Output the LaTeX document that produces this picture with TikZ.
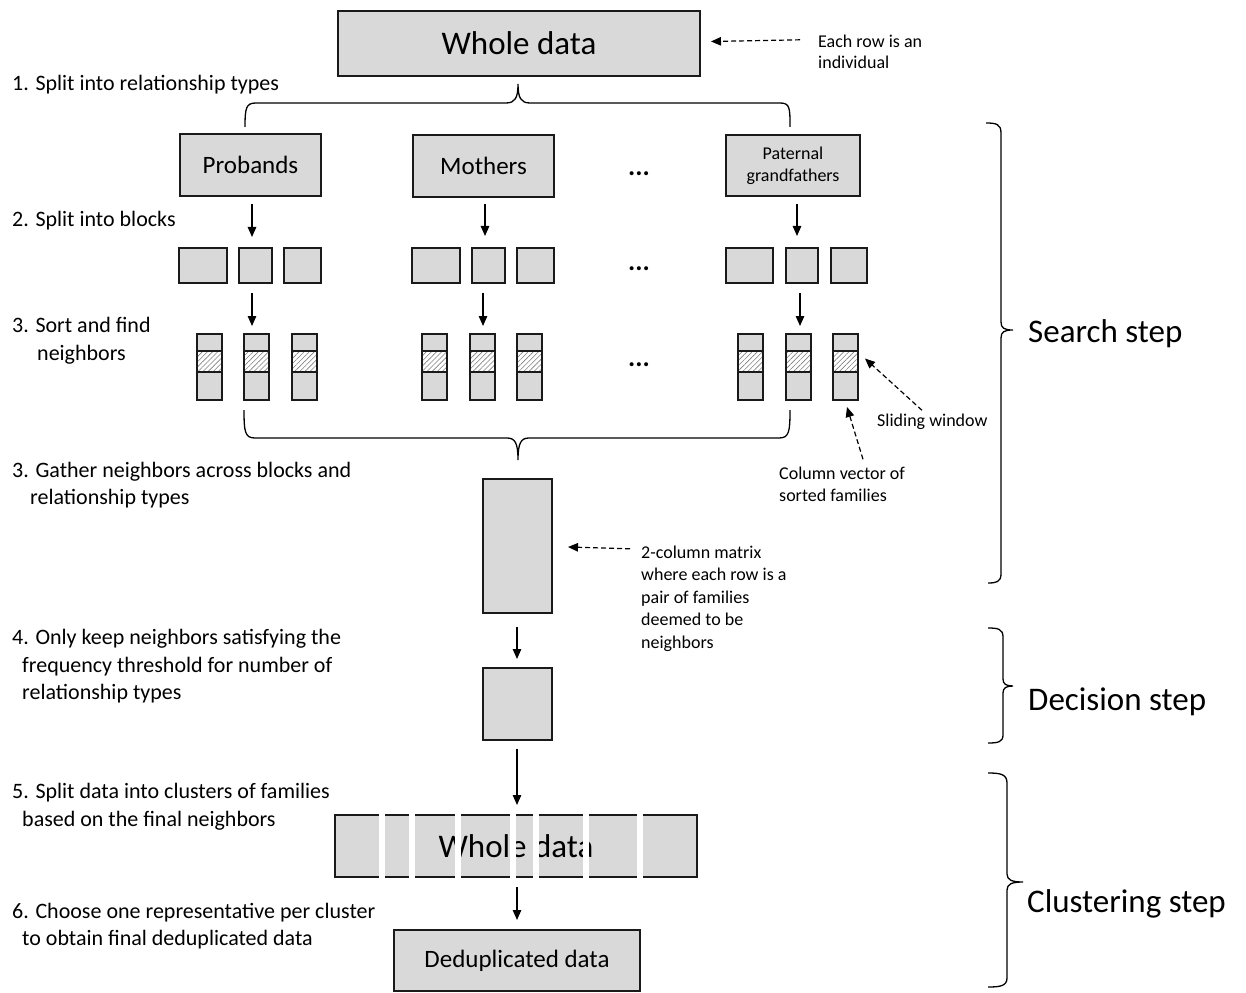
\documentclass[tikz,border=0pt]{standalone}
\usepackage{fontspec}
\setmainfont{Carlito}
\usetikzlibrary{arrows.meta,patterns.meta,calc}
\definecolor{boxfill}{HTML}{D9D9D9}
\definecolor{boxline}{HTML}{1A1A1A}
\begin{document}
\begin{tikzpicture}[x=1pt,y=-1pt,
  box/.style={draw=boxline,fill=boxfill,line width=1.4pt,inner sep=0pt,outer sep=0pt,anchor=north west},
  hatch/.style={draw=boxline,line width=1.4pt,inner sep=0pt,outer sep=0pt,anchor=north west,
    preaction={fill=white},pattern={Lines[angle=45,distance=3.6pt,line width=0.6pt]},pattern color=gray},
  arr/.style={-{Triangle[length=10pt,width=8.5pt]},line width=1.2pt},
  darr/.style={-{Triangle[length=10pt,width=8.5pt]},line width=1.2pt,dash pattern=on 5pt off 3pt},
  brc/.style={line width=1.3pt},
  steptxt/.style={anchor=base west,inner sep=0pt,font=\fontsize{22}{26}\selectfont},
  note/.style={anchor=base west,inner sep=0pt,font=\fontsize{18}{22}\selectfont},
  big/.style={anchor=base west,inner sep=0pt,font=\fontsize{33}{40}\selectfont},
  lab/.style={font=\fontsize{25}{30}\selectfont},
  biglab/.style={font=\fontsize{33}{40}\selectfont},
  dots/.style={anchor=base,inner sep=0pt,font=\fontsize{27}{32}\selectfont\bfseries}
]
\useasboundingbox (0,0) rectangle (1246,992);

% top box
\node[box,biglab,minimum width=362pt,minimum height=65pt] (top) at (338,11) {Whole data};
\node[note] (n1a) at (818,48) {Each row is an};
\node[note] (n1b) at (818,69) {individual};
\draw[darr] ($(n1a.west)+(-18,-2)$) -- ($(top.east)+(11,-2)$);

% step labels
\node[steptxt] (s1) at (12,91) {1. Split into relationship types};
\node[steptxt] (s2) at (12,227) {2. Split into blocks};
\node[steptxt] (s3a) at (12,332) {3. Sort and find};
\node[steptxt] (s3b) at (37,360) {neighbors};
\node[steptxt] (s4a) at (12,477) {3. Gather neighbors across blocks and};
\node[steptxt] (s4b) at (30,504) {relationship types};
\node[steptxt] (s5a) at (12,644) {4. Only keep neighbors satisfying the};
\node[steptxt] (s5b) at (22,672) {frequency threshold for number of};
\node[steptxt] (s5c) at (22,699) {relationship types};
\node[steptxt] (s6a) at (12,798) {5. Split data into clusters of families};
\node[steptxt] (s6b) at (22,826) {based on the final neighbors};
\node[steptxt] (s7a) at (12,918) {6. Choose one representative per cluster};
\node[steptxt] (s7b) at (22,945) {to obtain final deduplicated data};

% top brace
\draw[brc] (245,127) .. controls (245,108) and (246,103) .. (256,103) -- (506,103)
  .. controls (515,103) and (518,98) .. (518,84)
  .. controls (518,98) and (521,103) .. (530,103) -- (780,103)
  .. controls (790,103) and (790,108) .. (790,127);

% relationship boxes
\node[box,lab,minimum width=141pt,minimum height=62pt] (pro) at (180,134) {Probands};
\node[box,lab,minimum width=141pt,minimum height=62pt] (mot) at (413,135) {Mothers};
\node[box,minimum width=134pt,minimum height=61pt,align=center,font=\fontsize{18}{22}\selectfont] (pat) at (726,135) {Paternal\\grandfathers};
\node[dots] (d1) at (639,176) {...};

% blocks
\node[box,minimum width=48pt,minimum height=35pt] (pb1) at (179,248) {};
\node[box,minimum width=33pt,minimum height=35pt] (pb2) at (239,248) {};
\node[box,minimum width=37pt,minimum height=35pt] (pb3) at (284,248) {};
\node[box,minimum width=48pt,minimum height=35pt] (mb1) at (412,248) {};
\node[box,minimum width=33pt,minimum height=35pt] (mb2) at (472,248) {};
\node[box,minimum width=37pt,minimum height=35pt] (mb3) at (517,248) {};
\node[box,minimum width=47pt,minimum height=35pt] (gb1) at (726,248) {};
\node[box,minimum width=32pt,minimum height=35pt] (gb2) at (786,248) {};
\node[box,minimum width=36pt,minimum height=35pt] (gb3) at (831,248) {};
\node[dots] (d2) at (639,270) {...};

% column vectors
\foreach \x/\n in {197/p1,244/p2,292/p3,422/m1,470/m2,517/m3,738/g1,786/g2,833/g3} {
  \node[box,minimum width=25pt,minimum height=66pt] (c\n) at (\x,334) {};
  \node[hatch,minimum width=25pt,minimum height=21pt] (w\n) at (\x,351) {};
}
\node[dots] (d3) at (639,366) {...};

% arrows rel -> blocks -> columns
\draw[arr] ($(pro.south)+(1.5,8)$) -- ($(pro.south |- pb2.north)+(1.5,-11)$);
\draw[arr] ($(mot.south)+(1.5,7)$) -- ($(mot.south |- mb2.north)+(1.5,-12)$);
\draw[arr] ($(pat.south)+(4,8)$) -- ($(pat.south |- gb2.north)+(4,-12)$);
\draw[arr] ($(pb2.south)+(-3.5,10)$) -- ($(pb2.south |- cp2.north)+(-3.5,-8)$);
\draw[arr] ($(mb2.south)+(-5.5,10)$) -- ($(mb2.south |- cm2.north)+(-5.5,-8)$);
\draw[arr] ($(gb2.south)+(-2,10)$) -- ($(gb2.south |- cg2.north)+(-2,-8)$);

% annotations for columns
\node[note] (sw) at (877,426) {Sliding window};
\node[note] (cv1) at (779,479) {Column vector of};
\node[note] (cv2) at (779,501) {sorted families};
\draw[darr] ($(sw.north west)+(45,-3)$) -- ($(wg3.east)+(7,-3)$);
\draw[darr] ($(cv1.north west)+(84,-7)$) -- ($(cg3.south)+(1.5,7)$);

% gather brace
\draw[brc] (244,410) .. controls (244,432) and (245,438) .. (255,438) -- (507,438)
  .. controls (515,438) and (518,443) .. (518,460)
  .. controls (518,443) and (521,438) .. (529,438) -- (779,438)
  .. controls (789,438) and (790,432) .. (790,410);

% matrices
\node[box,minimum width=69pt,minimum height=134pt] (mat) at (483,479) {};
\node[note] (m1) at (641,558) {2-column matrix};
\node[note] (m2) at (641,580) {where each row is a};
\node[note] (m3) at (641,603) {pair of families};
\node[note] (m4) at (641,625) {deemed to be};
\node[note] (m5) at (641,648) {neighbors};
\draw[darr] ($(m1.west)+(-11,-3)$) -- ($(mat.east)+(16,1)$);

\node[box,minimum width=69pt,minimum height=72pt] (mat2) at (483,668) {};
\draw[arr] ($(mat.south)+(-0.5,14)$) -- ($(mat2.north)+(-0.5,-9)$);

% split whole data
\node[box,biglab,minimum width=362pt,minimum height=62pt] (split) at (335,815) {Whole data};
\foreach \x in {382,411.5,458,513,536,586,640} \fill[white] (\x-3,811) rectangle (\x+3,881);
\draw[arr] ($(mat2.south)+(-0.5,9)$) -- ($(split.north)+(1,-10)$);

% deduplicated
\node[box,minimum width=246pt,minimum height=61pt,font=\fontsize{25}{30}\selectfont] (dedup) at (394,930) {Deduplicated data};
\draw[arr] ($(split.south)+(1,10)$) -- ($(dedup.north)+(0,-10)$);

% right braces
\draw[brc] (986,123) .. controls (996,123) and (1001,124) .. (1001,133) -- (1001,322)
  .. controls (1001,328) and (1004,330) .. (1013,330)
  .. controls (1004,330) and (1001,332) .. (1001,338) -- (1001,574)
  .. controls (1001,582) and (996,583) .. (988,583);
\node[big] (ss) at (1028,342) {Search step};

\draw[brc] (988,628) .. controls (998,628) and (1003,629) .. (1003,637) -- (1003,679)
  .. controls (1003,684) and (1006,686) .. (1013,686)
  .. controls (1006,686) and (1003,688) .. (1003,693) -- (1003,735)
  .. controls (1003,742) and (998,743) .. (988,743);
\node[big] (ds) at (1028,710) {Decision step};

\draw[brc] (988,773) .. controls (1000,773) and (1007,774) .. (1007,783) -- (1007,874)
  .. controls (1007,880) and (1012,882) .. (1023,882)
  .. controls (1012,882) and (1007,884) .. (1007,890) -- (1007,978)
  .. controls (1007,986) and (1000,987) .. (988,987);
\node[big] (cs) at (1027,912) {Clustering step};
\end{tikzpicture}
\end{document}
